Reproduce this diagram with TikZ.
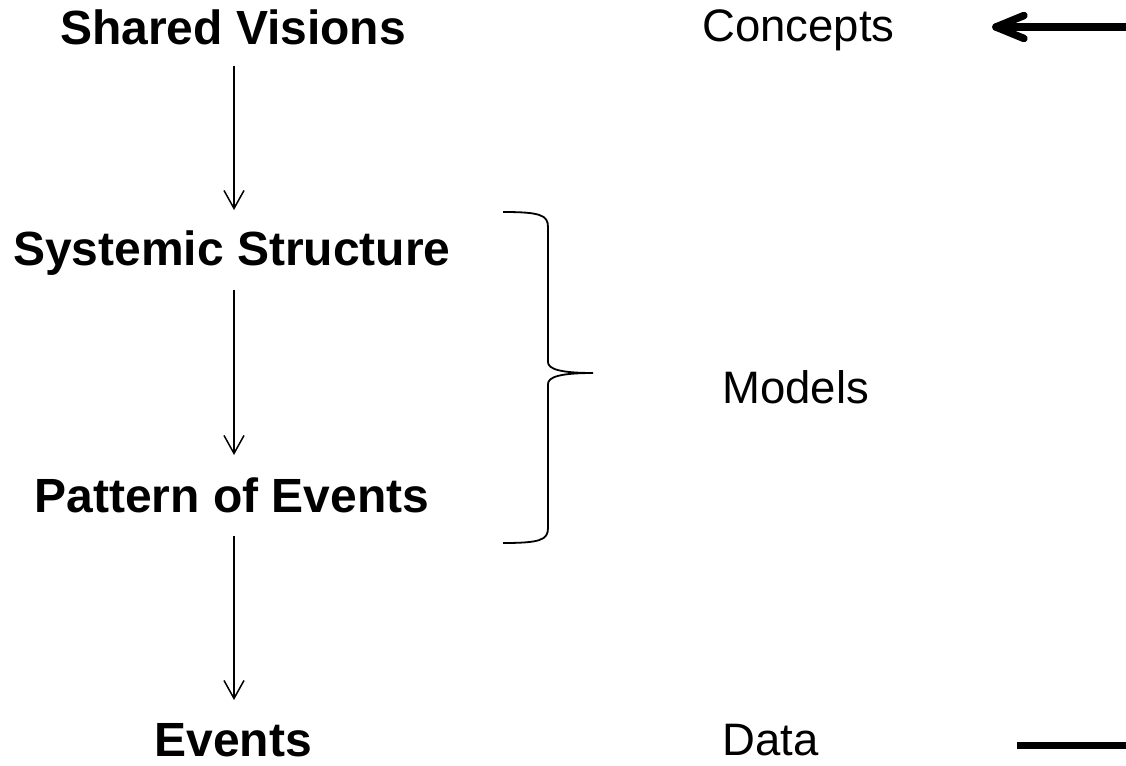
\documentclass[tikz,border=0pt]{standalone}
\usepackage{fontspec}
\setmainfont{Liberation Sans}
\usetikzlibrary{arrows.meta}
\begin{document}
\begin{tikzpicture}[x=1pt,y=-1pt,
  level/.style={inner sep=0pt,anchor=base,font=\fontsize{48}{56}\selectfont\bfseries},
  side/.style={inner sep=0pt,anchor=base west,font=\fontsize{45.5}{54}\selectfont},
  flow/.style={line width=1.5pt,-{Straight Barb[length=18pt,width=20pt,line width=1.5pt]}},
  bracepath/.style={line width=1.8pt},
  thick arrow/.style={line width=7.5pt,line cap=round,line join=round}]
\useasboundingbox (0,0) rectangle (1126,765);
% levels
\node[level] (sv) at (233,45) {Shared Visions};
\node[level] (ss) at (232,265) {Systemic Structure};
\node[level] (pe) at (232,512) {Pattern of Events};
\node[level] (ev) at (233,756) {Events};
% side labels
\node[side] (co) at (702,42) {Concepts};
\node[side] (mo) at (722,403) {Models};
\node[side] (da) at (722,755) {Data};
% vertical arrows
\coordinate (a1s) at (234,66); \coordinate (a1e) at (234,210);
\coordinate (a2s) at (234,290); \coordinate (a2e) at (234,455);
\coordinate (a3s) at (234,536); \coordinate (a3e) at (234,700);
\draw[flow] (a1s) -- (a1e);
\draw[flow] (a2s) -- (a2e);
\draw[flow] (a3s) -- (a3e);
% brace
\draw[bracepath] (503,212) .. controls (540,212) and (548,215) .. (548,227)
  -- (548,362) .. controls (548,369) and (560,373) .. (593,373)
  .. controls (560,373) and (548,377) .. (548,384)
  -- (548,528) .. controls (548,540) and (540,543) .. (503,543);
% top-right arrow
\coordinate (ts) at (1126,27); \coordinate (tt) at (996,27);
\draw[thick arrow] (ts) -- (tt);
\draw[thick arrow] (1024,15.5) -- (tt) -- (1024,38.5);
% bottom-right line
\coordinate (bs) at (1017,745.5); \coordinate (be) at (1126,745.5);
\draw[line width=7.5pt] (bs) -- (be);
\end{tikzpicture}
\end{document}
